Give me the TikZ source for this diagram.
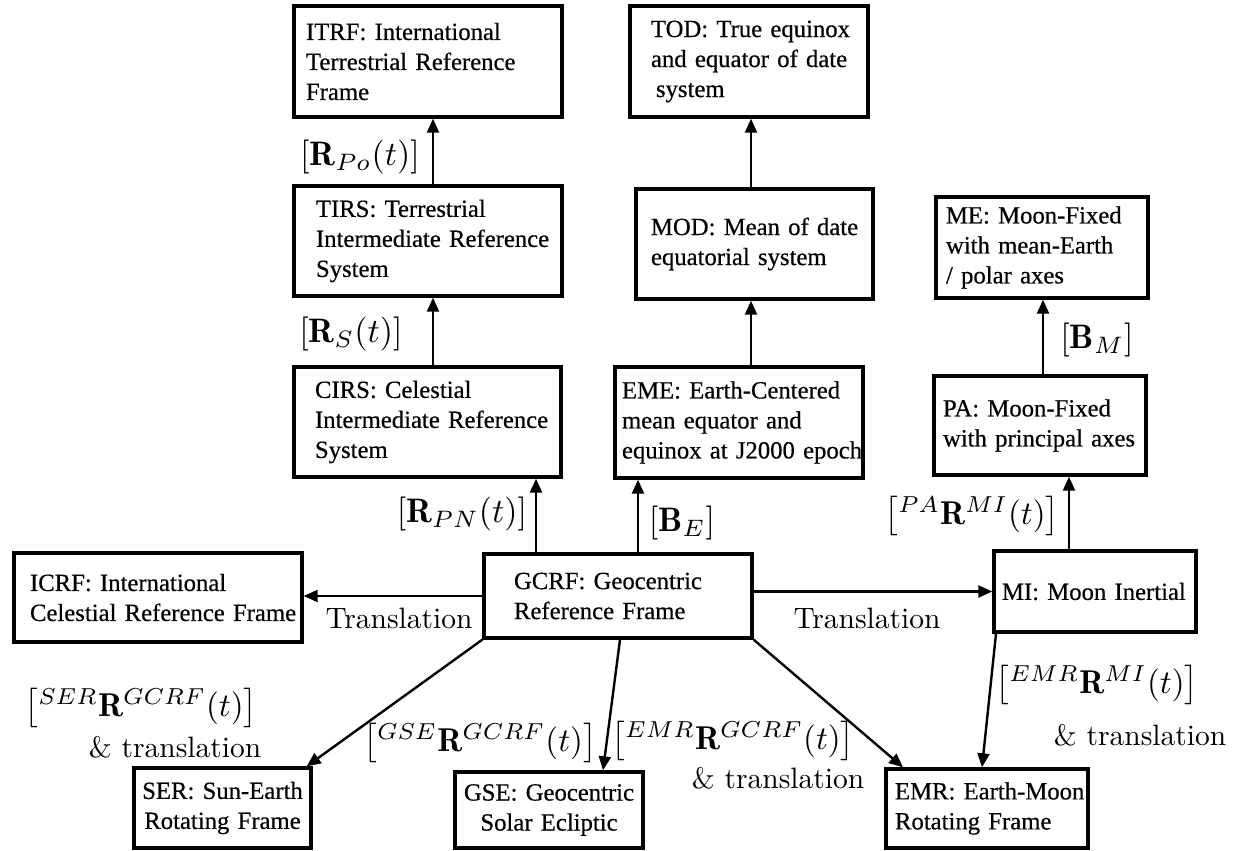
\RequirePackage{fix-cm}
\documentclass[tikz,border=0pt]{standalone}
\usepackage{fontspec}
\newfontfamily\boxfont[FakeBold=0.5]{Liberation Serif}
\usetikzlibrary{arrows.meta}

\begin{document}
\begin{tikzpicture}[x=1pt,y=-1pt,
  frame/.style={draw=black, line width=3.4pt, inner ysep=0pt, align=left,
    font=\boxfont\fontsize{24.7}{30}\selectfont},
  arr/.style={line width=2.4pt, -{Triangle[length=14pt,width=12pt]}},
  mlab/.style={inner sep=0pt, scale=3.4, font=\fontsize{10}{12}\selectfont},
  slab/.style={inner sep=0pt, scale=3.3, font=\fontsize{10}{12}\selectfont},
  tlab/.style={inner sep=0pt, scale=2.95, font=\fontsize{10}{12}\selectfont}
]
\useasboundingbox (0,0) rectangle (1237,851);

% Earth-fixed chain
\node[frame, minimum width=268pt, minimum height=111pt, text width=244pt, inner xsep=12pt]
  (itrf) at (428,61.5) {\mbox{ITRF: International}\\\mbox{Terrestrial Reference}\\\mbox{Frame}};
\node[frame, minimum width=268pt, minimum height=110pt, text width=224pt, inner xsep=22pt]
  (tirs) at (428,241) {\mbox{TIRS: Terrestrial}\\\mbox{Intermediate Reference}\\\mbox{System}};
\node[frame, minimum width=267pt, minimum height=110pt, text width=225pt, inner xsep=21pt]
  (cirs) at (427.5,422) {\mbox{CIRS: Celestial}\\\mbox{Intermediate Reference}\\\mbox{System}};

% Equator / equinox chain
\node[frame, minimum width=238pt, minimum height=111pt, text width=196pt, inner xsep=21pt]
  (tod) at (749,61.5) {\mbox{TOD: True equinox}\\\mbox{and equator of date}\\\mbox{\hspace*{5pt}system}};
\node[frame, minimum width=237pt, minimum height=110pt, text width=207pt, inner xsep=15pt]
  (mod) at (754.5,244) {\mbox{MOD: Mean of date}\\\mbox{equatorial system}};
\node[frame, minimum width=248pt, minimum height=111pt, text width=234pt, inner xsep=7pt]
  (eme) at (739,422.5) {\mbox{EME: Earth-Centered}\\\mbox{mean equator and}\\\mbox{equinox at J2000 epoch}};

% Moon frames
\node[frame, minimum width=212pt, minimum height=101pt, text width=192pt, inner xsep=10pt]
  (me) at (1042,247.5) {\mbox{ME: Moon-Fixed}\\\mbox{with mean-Earth}\\\mbox{/ polar axes}};
\node[frame, minimum width=212pt, minimum height=99pt, text width=194pt, inner xsep=9pt]
  (pa) at (1040,425.5) {\mbox{PA: Moon-Fixed}\\\mbox{with principal axes}};
\node[frame, minimum width=202pt, minimum height=81pt, text width=186pt, inner xsep=8pt]
  (mi) at (1095,591.5) {\mbox{MI: Moon Inertial}};

% Central row
\node[frame, minimum width=268pt, minimum height=84pt, text width=208pt, inner xsep=30pt]
  (gcrf) at (618,596) {\mbox{GCRF: Geocentric}\\\mbox{Reference Frame}};
\node[frame, minimum width=288pt, minimum height=89pt, text width=256pt, inner xsep=16pt]
  (icrf) at (158,597.5) {\mbox{ICRF: International}\\\mbox{Celestial Reference Frame}};

% Rotating frames
\node[frame, align=center, minimum width=177pt, minimum height=80pt, text width=165pt, inner xsep=6pt]
  (ser) at (222.5,808) {\mbox{SER: Sun-Earth}\\\mbox{Rotating Frame}};
\node[frame, align=center, minimum width=188pt, minimum height=76pt, text width=176pt, inner xsep=6pt]
  (gse) at (549,810) {\mbox{GSE: Geocentric}\\\mbox{Solar Ecliptic}};
\node[frame, minimum width=202pt, minimum height=79pt, text width=184pt, inner xsep=9pt]
  (emr) at (987,808.5) {\mbox{EMR: Earth-Moon}\\\mbox{Rotating Frame}};

% Vertical transformations
\draw[arr] ([xshift=5pt]tirs.north) -- ([xshift=5pt]itrf.south);
\draw[arr] ([xshift=5.5pt]cirs.north) -- ([xshift=5pt]tirs.south);
\draw[arr] ([xshift=-82pt]gcrf.north) -- ([xshift=108.5pt]cirs.south);
\draw[arr] ([xshift=20pt]gcrf.north) -- ([xshift=-101pt]eme.south);
\draw[arr] ([xshift=12pt]eme.north) -- ([xshift=-3.5pt]mod.south);
\draw[arr] ([xshift=-3.5pt]mod.north) -- ([xshift=2pt]tod.south);
\draw[arr] ([xshift=-26pt]mi.north) -- ([xshift=29pt]pa.south);
\draw[arr] ([xshift=3pt]pa.north) -- ([xshift=1pt]me.south);

% Translations
\draw[arr] (gcrf.west) -- (gcrf.west -| icrf.east);
\draw[arr] (gcrf.east |- mi.west) -- (mi.west);

% Rotations to the rotating frames
\draw[arr] (gcrf.south west) -- ([xshift=-6pt]ser.north east);
\draw[arr] ([xshift=2pt]gcrf.south) -- ([xshift=54pt]gse.north);
\draw[arr] (gcrf.south east) -- ([xshift=-84pt]emr.north);
\draw[arr] ([xshift=-99pt]mi.south) -- ([xshift=-5pt]emr.north);

% Labels
\node[mlab] (lpo) at (360,157) {$[\mathbf{R}_{Po}(t)]$};
\node[mlab] (ls) at (351,334) {$[\mathbf{R}_{S}(t)]$};
\node[mlab] (lpn) at (462,514) {$[\mathbf{R}_{PN}(t)]$};
\node[mlab] (lbe) at (682,523) {$[\mathbf{B}_{E}]$};
\node[mlab] (lbm) at (1097,340) {$[\mathbf{B}_{M}]$};
\node[slab] (lpa) at (972,516) {$\left[{}^{PA}\mathbf{R}^{MI}(t)\right]$};
\node[tlab] (ltl) at (399,618) {Translation};
\node[tlab] (ltr) at (867,618) {Translation};
\node[slab] (lser) at (141,708) {$\left[{}^{SER}\mathbf{R}^{GCRF}(t)\right]$};
\node[tlab] (lsert) at (175,747) {\& translation};
\node[slab] (lgse) at (480,743) {$\left[{}^{GSE}\mathbf{R}^{GCRF}(t)\right]$};
\node[slab] (lemrg) at (733,741) {$\left[{}^{EMR}\mathbf{R}^{GCRF}(t)\right]$};
\node[tlab] (lemrgt) at (778,778) {\& translation};
\node[slab] (lemrm) at (1097,685) {$\left[{}^{EMR}\mathbf{R}^{MI}(t)\right]$};
\node[tlab] (lemrmt) at (1140,735) {\& translation};
\end{tikzpicture}
\end{document}
